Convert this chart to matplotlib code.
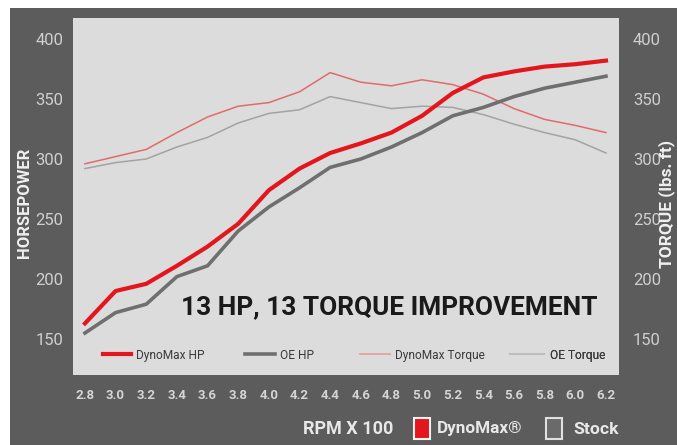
import matplotlib
matplotlib.use("Agg")
import matplotlib.pyplot as plt
from matplotlib.patches import Rectangle
from matplotlib.lines import Line2D

# ---- data ----
rpm = [2.8, 3.0, 3.2, 3.4, 3.6, 3.8, 4.0, 4.2, 4.4, 4.6, 4.8, 5.0, 5.2, 5.4, 5.6, 5.8, 6.0, 6.2]
dynomax_hp = [163, 190, 196, 211, 227, 246, 274, 292, 305, 313, 322, 336, 355, 368, 373, 377, 379, 382]
oe_hp = [155, 172, 179, 202, 211, 240, 260, 276, 293, 300, 310, 322, 336, 343, 352, 359, 364, 369]
dynomax_tq = [296, 302, 308, 322, 335, 344, 347, 356, 372, 364, 361, 366, 362, 354, 342, 333, 328, 322]
oe_tq = [292, 297, 300, 310, 318, 330, 338, 341, 352, 347, 342, 344, 343, 337, 329, 322, 316, 305]
xticks = [2.8, 3.0, 3.2, 3.4, 3.6, 3.8, 4.0, 4.2, 4.4, 4.6, 4.8, 5.0, 5.2, 5.4, 5.6, 5.8, 6.0, 6.2]
yticks = [150, 200, 250, 300, 350, 400]
series_names = ["DynoMax HP", "OE HP", "DynoMax Torque", "OE Torque"]
series_colors = ["#e3161d", "#6f6f6f", "#e26a6a", "#a3a3a3"]
series_widths = [3.0, 2.6, 1.1, 1.1]

plt.rcParams["font.family"] = ["Roboto", "DejaVu Sans"]

W, H = 677, 445
fig = plt.figure(figsize=(W / 100, H / 100), dpi=100)
fig.patch.set_facecolor("white")
renderer = fig.canvas.get_renderer()


def fit(t, target, along="x"):
    bb = t.get_window_extent(renderer)
    cur = bb.width if along == "x" else bb.height
    if cur > 0:
        t.set_fontsize(t.get_fontsize() * target / cur)


# dark outer panel
fig.patches.append(Rectangle((10 / W, 0), 1 - 10 / W, 1 - 8 / H, transform=fig.transFigure,
                             facecolor="#5c5c5c", edgecolor="none", zorder=-10))

ax = fig.add_axes([73 / W, 70 / H, 546 / W, 357 / H], zorder=1)
ax.set_facecolor("#dcdcdc")
ax.set_xlim(2.722, 6.285)
ax.set_ylim(120, 417.5)

data = [dynomax_hp, oe_hp, dynomax_tq, oe_tq]
zs = [5, 4, 3, 3]
for vals, c, lw, z in zip(data, series_colors, series_widths, zs):
    ax.plot(rpm, vals, color=c, lw=lw, zorder=z, solid_joinstyle="round")

for s in ax.spines.values():
    s.set_visible(False)

ax.set_xticks(xticks)
ax.set_xticklabels([f"{v:.1f}" for v in xticks])
ax.set_yticks(yticks)
ax.tick_params(axis="x", length=0, pad=10, labelsize=9.5, labelcolor="#d4d4d4")
ax.tick_params(axis="y", length=0, pad=7, labelsize=12, labelcolor="#cfcfcf")
for lab in ax.get_xticklabels():
    lab.set_fontweight("bold")

ax2 = ax.twinx()
ax2.set_ylim(ax.get_ylim())
ax2.set_yticks(yticks)
ax2.tick_params(axis="y", length=0, pad=10, labelsize=12, labelcolor="#cfcfcf")
for s in ax2.spines.values():
    s.set_visible(False)

# legend inside: one entry each, anchored where the reference shows them
legend_x = [0.055, 0.315, 0.526, 0.800]
legend_handle_len = [2.3, 2.5, 2.5, 2.9]
leg_colors = ["#e3161d", "#6f6f6f", "#e8a0a0", "#bdbdbd"]
leg_widths = [3.0, 2.6, 1.3, 1.3]
for i, name in enumerate(series_names):
    h = Line2D([], [], color=leg_colors[i], lw=leg_widths[i])
    lg = ax.legend([h], [name], loc="center left", bbox_to_anchor=(legend_x[i], 0.056),
                   frameon=False, fontsize=8.6, handlelength=legend_handle_len[i],
                   handletextpad=0.45, borderpad=0, borderaxespad=0)
    for t in lg.get_texts():
        t.set_color("#3a3a3a")
    ax.add_artist(lg)

# headline
head = ax.text(0.579, 0.19, "13 HP, 13 TORQUE IMPROVEMENT", transform=ax.transAxes,
               ha="center", va="center", fontsize=23, fontweight="bold", color="#1a1a1a")
fit(head, 418)

# axis titles
hp_lab = fig.text(25 / W, 1 - 203 / H, "HORSEPOWER", rotation=90, ha="center", va="center",
                  fontsize=11, fontweight="bold", color="#f0f0f0")
fit(hp_lab, 110, "y")
tq_lab = fig.text(667 / W, 1 - 204 / H, "TORQUE (lbs. ft)", rotation=90, ha="center", va="center",
                  fontsize=11, fontweight="bold", color="#f0f0f0")
fit(tq_lab, 128, "y")

# bottom key
t1 = fig.text(303 / W, 1 - 429 / H, "RPM X 100", ha="left", va="center",
              fontsize=13, fontweight="bold", color="#e8e8e8")
fit(t1, 90)
fig.patches.append(Rectangle((414 / W, 1 - 439 / H), 16 / W, 21 / H, transform=fig.transFigure,
                             facecolor="#e3161d", edgecolor="#f2f2f2", lw=1.5, zorder=2))
t2 = fig.text(437 / W, 1 - 429 / H, "DynoMax\u00ae", ha="left", va="center",
              fontsize=13, fontweight="bold", color="#e8e8e8")
fit(t2, 85)
fig.patches.append(Rectangle((546 / W, 1 - 439 / H), 16 / W, 21 / H, transform=fig.transFigure,
                             facecolor="#6a6a6a", edgecolor="#e0e0e0", lw=1.5, zorder=2))
t3 = fig.text(573 / W, 1 - 429 / H, "Stock", ha="left", va="center",
              fontsize=13, fontweight="bold", color="#e8e8e8")
fit(t3, 45)

fig.savefig("out.png", dpi=100, facecolor=fig.get_facecolor())
